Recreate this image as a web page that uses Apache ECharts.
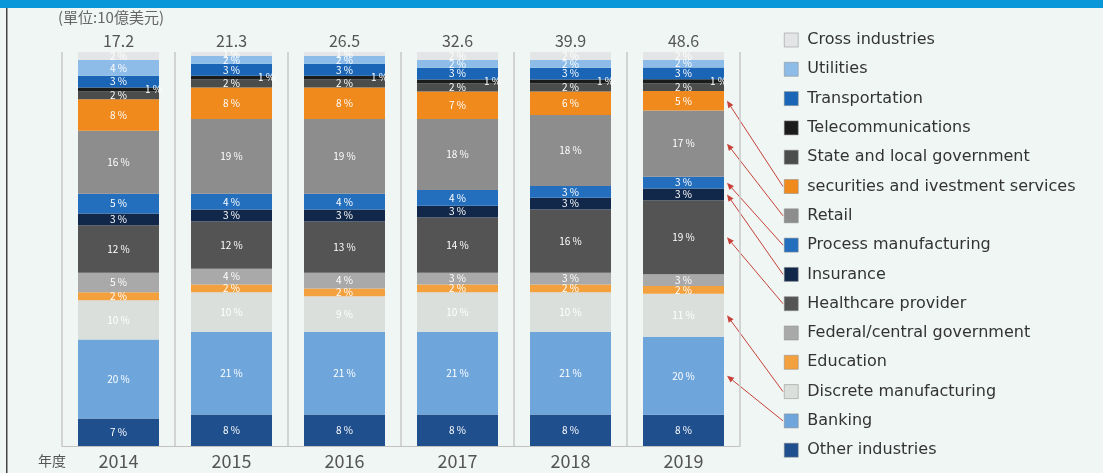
<!DOCTYPE html>
<html>
<head>
<meta charset="utf-8">
<script src="https://cdn.jsdelivr.net/npm/echarts@6/dist/echarts.min.js"></script>
<style>
html,body{margin:0;padding:0;background:#eff6f4;}
#c{width:1103px;height:473px;}
</style>
</head>
<body>
<div id="c"></div>
<script>
// ---- data ----
const years = ['2014', '2015', '2016', '2017', '2018', '2019'];
const totals = [17.2, 21.3, 26.5, 32.6, 39.9, 48.6];
const otherIndustries = [7, 8, 8, 8, 8, 8];
const banking = [20, 21, 21, 21, 21, 20];
const discreteManufacturing = [10, 10, 9, 10, 10, 11];
const education = [2, 2, 2, 2, 2, 2];
const federalGovernment = [5, 4, 4, 3, 3, 3];
const healthcareProvider = [12, 12, 13, 14, 16, 19];
const insurance = [3, 3, 3, 3, 3, 3];
const processManufacturing = [5, 4, 4, 4, 3, 3];
const retail = [16, 19, 19, 18, 18, 17];
const securities = [8, 8, 8, 7, 6, 5];
const stateLocalGovernment = [2, 2, 2, 2, 2, 2];
const telecommunications = [1, 1, 1, 1, 1, 1];
const transportation = [3, 3, 3, 3, 3, 3];
const utilities = [4, 2, 2, 2, 2, 2];
const crossIndustries = [2, 1, 1, 2, 2, 2];

// stack order bottom -> top
const stackSeries = [
  {name: 'Other industries', data: otherIndustries, color: '#1f4f8d'},
  {name: 'Banking', data: banking, color: '#6ea6dc'},
  {name: 'Discrete manufacturing', data: discreteManufacturing, color: '#dadfdc'},
  {name: 'Education', data: education, color: '#f3a03f'},
  {name: 'Federal/central government', data: federalGovernment, color: '#a9a9a9'},
  {name: 'Healthcare provider', data: healthcareProvider, color: '#545454'},
  {name: 'Insurance', data: insurance, color: '#11284a'},
  {name: 'Process manufacturing', data: processManufacturing, color: '#246fbd'},
  {name: 'Retail', data: retail, color: '#8d8d8d'},
  {name: 'securities and ivestment services', data: securities, color: '#f18a1d'},
  {name: 'State and local government', data: stateLocalGovernment, color: '#4b4c4c'},
  {name: 'Telecommunications', data: telecommunications, color: '#1b1b1b'},
  {name: 'Transportation', data: transportation, color: '#1a65b6'},
  {name: 'Utilities', data: utilities, color: '#8dbce9'},
  {name: 'Cross industries', data: crossIndustries, color: '#e3e5e6'}
];

const sums = years.map((y, i) => stackSeries.reduce((s, ser) => s + ser.data[i], 0));
const norm = (arr) => arr.map((v, i) => v / sums[i] * 100);

const FONT = '"Noto Sans CJK JP", "Noto Sans", sans-serif';
const LEG_FONT = '"DejaVu Sans", sans-serif';
const BAR_W = 81;
const LEG_TOP = 32, LEG_ITEM_H = 16, LEG_GAP = 13.3;

const chart = echarts.init(document.getElementById('c'), null, {renderer: 'canvas'});

const series = stackSeries.map(s => ({
  name: s.name,
  type: 'bar',
  stack: 'all',
  barWidth: BAR_W,
  data: norm(s.data),
  itemStyle: {color: s.color},
  label: {
    show: true,
    position: s.name === 'Telecommunications' ? 'insideRight' : 'inside',
    offset: s.name === 'Telecommunications' ? [8, 0] : [0, 0],
    color: '#ffffff',
    fontSize: 10,
    fontFamily: FONT,
    formatter: (p) => s.data[p.dataIndex] + ' %'
  },
  emphasis: {disabled: true}
}));

series.push({
  name: 'total',
  type: 'bar',
  stack: 'all',
  barWidth: BAR_W,
  data: totals.map(() => 0),
  itemStyle: {color: 'rgba(0,0,0,0)'},
  label: {
    show: true,
    position: 'top',
    distance: 3,
    color: '#555',
    fontSize: 16,
    fontFamily: FONT,
    formatter: (p) => totals[p.dataIndex].toFixed(1)
  }
});

const legendOrder = stackSeries.map(s => s.name).reverse();

chart.setOption({
  backgroundColor: '#eff6f4',
  animation: false,
  grid: {left: 62, right: 363, top: 52, bottom: 27},
  xAxis: {
    type: 'category',
    data: years,
    axisTick: {show: false},
    axisLine: {show: true, lineStyle: {color: '#c2c2c2', width: 1}},
    axisLabel: {color: '#555', fontSize: 18, fontFamily: FONT, margin: 6},
    splitLine: {show: true, interval: 0, lineStyle: {color: '#c9c9c9', width: 1.5}}
  },
  yAxis: {type: 'value', min: 0, max: 100, show: false, splitLine: {show: false}},
  legend: {
    orient: 'vertical',
    left: 784,
    top: LEG_TOP,
    padding: 0,
    data: legendOrder,
    icon: 'rect',
    itemWidth: 14,
    itemHeight: 14,
    itemGap: LEG_GAP,
    selectedMode: false,
    textStyle: {color: '#333', fontSize: 16, fontFamily: LEG_FONT, lineHeight: LEG_ITEM_H, padding: [0, 0, 0, 4]},
    itemStyle: {borderColor: '#888', borderWidth: 0.5}
  },
  series: series,
  graphic: [
    {id: 'topband', type: 'rect', left: 0, top: 0, shape: {width: 1103, height: 8}, style: {fill: '#0a97d9'}, silent: true},
    {id: 'leftline', type: 'rect', left: 6, top: 8, shape: {width: 1.5, height: 465}, style: {fill: '#444'}, silent: true},
    {id: 'unit', type: 'text', left: 58, top: 10, style: {text: '(單位:10億美元)', fill: '#666', font: '15px ' + FONT}, silent: true},
    {id: 'nendo', type: 'text', left: 38, top: 454, style: {text: '年度', fill: '#555', font: '14px ' + FONT}, silent: true}
  ]
});

// annotation arrows from legend items to the 2019 bar segments
const arrowNames = ['securities and ivestment services', 'Retail', 'Process manufacturing', 'Insurance', 'Healthcare provider', 'Discrete manufacturing', 'Banking'];
const lastIdx = years.length - 1;
const arrows = [];
arrowNames.forEach((nm, k) => {
  const si = stackSeries.findIndex(s => s.name === nm);
  let below = 0;
  for (let j = 0; j < si; j++) below += stackSeries[j].data[lastIdx] / sums[lastIdx] * 100;
  const mid = below + stackSeries[si].data[lastIdx] / sums[lastIdx] * 100 / 2;
  const pt = chart.convertToPixel({gridIndex: 0}, [lastIdx, mid]);
  const hx = pt[0] + BAR_W / 2 + 3, hy = pt[1];
  const li = legendOrder.indexOf(nm);
  const tx = 783, ty = LEG_TOP + li * (LEG_ITEM_H + LEG_GAP) + LEG_ITEM_H / 2;
  const ang = Math.atan2(hy - ty, hx - tx);
  const L = 7, W = 3;
  const bx = hx - L * Math.cos(ang), by = hy - L * Math.sin(ang);
  const p1 = [bx + W * Math.sin(ang), by - W * Math.cos(ang)];
  const p2 = [bx - W * Math.sin(ang), by + W * Math.cos(ang)];
  arrows.push({id: 'al' + k, type: 'line', shape: {x1: tx, y1: ty, x2: bx, y2: by}, style: {stroke: '#c8423a', lineWidth: 1}, silent: true});
  arrows.push({id: 'ah' + k, type: 'polygon', shape: {points: [[hx, hy], p1, p2]}, style: {fill: '#c8423a'}, silent: true});
});
chart.setOption({graphic: arrows});
</script>
</body>
</html>
